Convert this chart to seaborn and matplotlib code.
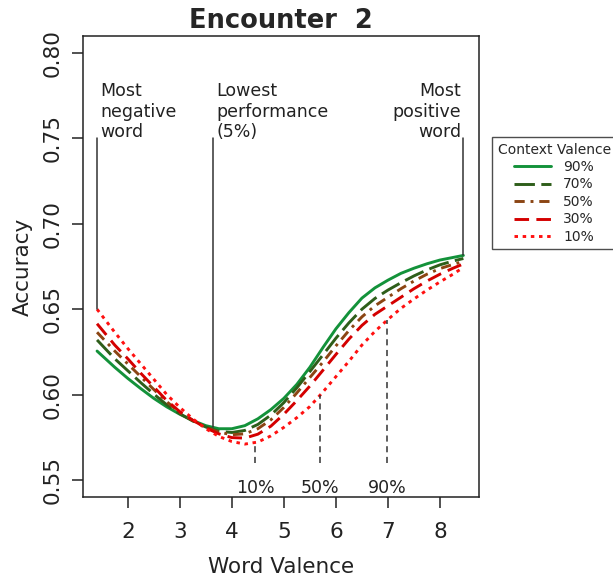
import numpy as np
import pandas as pd
import matplotlib
matplotlib.use("Agg")
import matplotlib.pyplot as plt
import seaborn as sns

# word valence positions where the curves were read
valence = [1.41, 1.75, 2.0, 2.25, 2.5, 2.75, 3.0, 3.25, 3.5, 3.75, 4.0, 4.25, 4.5, 4.75,
           5.0, 5.25, 5.5, 5.75, 6.0, 6.25, 6.5, 6.75, 7.0, 7.25, 7.5, 7.75, 8.0, 8.25, 8.45]

acc_90 = [0.6255, 0.6160, 0.6095, 0.6035, 0.5978, 0.5928, 0.5885, 0.5848, 0.5818, 0.5800,
          0.5800, 0.5818, 0.5858, 0.5912, 0.5978, 0.6060, 0.6160, 0.6275, 0.6385, 0.6480,
          0.6565, 0.6625, 0.6670, 0.6710, 0.6740, 0.6766, 0.6788, 0.6803, 0.6815]
acc_70 = [0.6320, 0.6210, 0.6140, 0.6070, 0.6003, 0.5940, 0.5888, 0.5845, 0.5810, 0.5785,
          0.5778, 0.5790, 0.5825, 0.5880, 0.5953, 0.6040, 0.6135, 0.6232, 0.6330, 0.6420,
          0.6500, 0.6563, 0.6612, 0.6655, 0.6695, 0.6730, 0.6760, 0.6782, 0.6797]
acc_50 = [0.6365, 0.6255, 0.6180, 0.6105, 0.6030, 0.5958, 0.5895, 0.5848, 0.5808, 0.5780,
          0.5765, 0.5770, 0.5800, 0.5852, 0.5925, 0.6010, 0.6100, 0.6190, 0.6285, 0.6375,
          0.6455, 0.6520, 0.6570, 0.6620, 0.6665, 0.6705, 0.6738, 0.6762, 0.6780]
acc_30 = [0.6415, 0.6290, 0.6210, 0.6125, 0.6045, 0.5965, 0.5900, 0.5850, 0.5805, 0.5770,
          0.5748, 0.5745, 0.5768, 0.5815, 0.5885, 0.5965, 0.6050, 0.6142, 0.6235, 0.6325,
          0.6405, 0.6470, 0.6520, 0.6570, 0.6620, 0.6665, 0.6705, 0.6740, 0.6765]
acc_10 = [0.6500, 0.6365, 0.6270, 0.6180, 0.6090, 0.6000, 0.5925, 0.5858, 0.5800, 0.5755,
          0.5725, 0.5710, 0.5722, 0.5758, 0.5808, 0.5865, 0.5930, 0.6015, 0.6105, 0.6195,
          0.6290, 0.6370, 0.6440, 0.6505, 0.6560, 0.6612, 0.6660, 0.6705, 0.6745]

context_labels = ["90%", "70%", "50%", "30%", "10%"]

# reference markers (solid lines with text)
marker_x = [1.41, 3.64, 8.45]
marker_low = [0.650, 0.5808, 0.6815]
marker_text = ["Most\nnegative\nword", "Lowest\nperformance\n(5%)", "Most\npositive\nword"]

# valence percentiles (dashed lines)
pct_x = [4.45, 5.70, 6.98]
pct_top = [0.5716, 0.5995, 0.6435]
pct_labels = ["10%", "50%", "90%"]


def build_frame():
    series = [acc_90, acc_70, acc_50, acc_30, acc_10]
    rows = []
    for lab, vals in zip(context_labels, series):
        for x, y in zip(valence, vals):
            rows.append({"Word Valence": x, "Accuracy": y, "Context": lab})
    return pd.DataFrame(rows)


def plot(df):
    sns.set_style("white")
    plt.rcParams["font.family"] = ["DejaVu Sans"]

    fig = plt.figure(figsize=(6.13, 5.78), dpi=100)
    ax = fig.add_axes([0.1354, 0.1401, 0.646, 0.7976])

    colors = ["#13923a", "#2e5e1a", "#8b4513", "#d40000", "#ff1010"]
    styles = ["-", (0, (7, 2.2)), (0, (3.5, 2, 1, 2)), (0, (5, 2.5)), (0, (1.2, 1.6))]

    for lab, col, ls in zip(context_labels, colors, styles):
        sns.lineplot(data=df[df["Context"] == lab], x="Word Valence", y="Accuracy",
                     color=col, linestyle=ls, linewidth=2.1, label=lab, ax=ax)

    for x, lo in zip(marker_x, marker_low):
        ax.plot([x, x], [0.75, lo], color="#333333", linewidth=1.1)
    ax.text(marker_x[0] + 0.06, 0.7487, marker_text[0], ha="left", va="bottom",
            fontsize=12.5, linespacing=1.15, color="#222222")
    ax.text(marker_x[1] + 0.06, 0.7487, marker_text[1], ha="left", va="bottom",
            fontsize=12.5, linespacing=1.15, color="#222222")
    ax.text(marker_x[2] - 0.04, 0.7487, marker_text[2], ha="right", va="bottom",
            fontsize=12.5, linespacing=1.15, color="#222222")

    for x, top, lab in zip(pct_x, pct_top, pct_labels):
        ax.plot([x, x], [0.560, top], color="#333333", linewidth=1.1, linestyle=(0, (4, 3)))
        ax.text(x, 0.5455, lab, ha="center", va="center", fontsize=12.5, color="#222222")

    ax.set_xlim(1.14, 8.75)
    ax.set_ylim(0.54, 0.81)
    ax.set_xticks([2, 3, 4, 5, 6, 7, 8])
    ax.set_yticks([0.55, 0.60, 0.65, 0.70, 0.75, 0.80])
    ax.set_yticklabels(["0.55", "0.60", "0.65", "0.70", "0.75", "0.80"],
                       rotation=90, va="center")
    ax.tick_params(axis="both", direction="out", length=8, width=1.1, labelsize=15.5,
                   color="#222222", labelcolor="#222222", left=True, bottom=True)
    ax.tick_params(axis="x", pad=10)
    ax.tick_params(axis="y", pad=7)
    for s in ax.spines.values():
        s.set_color("#222222")
        s.set_linewidth(1.1)

    ax.set_xlabel("Word Valence", fontsize=15.5, labelpad=11, color="#222222")
    ax.set_ylabel("Accuracy", fontsize=15.5, labelpad=7, color="#222222")
    ax.set_title("Encounter  2", fontsize=18.5, fontweight="bold", pad=6)

    handles, labels = ax.get_legend_handles_labels()
    ax.legend_.remove()
    leg = fig.legend(handles, labels, title="Context Valence", loc="upper left",
                     bbox_to_anchor=(492 / 613, 1 - 137 / 578), fontsize=10,
                     title_fontsize=10, frameon=True, fancybox=False,
                     handlelength=2.6, handletextpad=0.9, labelspacing=0.25,
                     borderpad=0.4, borderaxespad=0)
    leg.get_frame().set_edgecolor("#222222")
    leg.get_frame().set_linewidth(1.0)
    leg._legend_box.align = "center"

    fig.savefig("out.png", dpi=100)


def main():
    df = build_frame()
    plot(df)


if __name__ == "__main__":
    main()
